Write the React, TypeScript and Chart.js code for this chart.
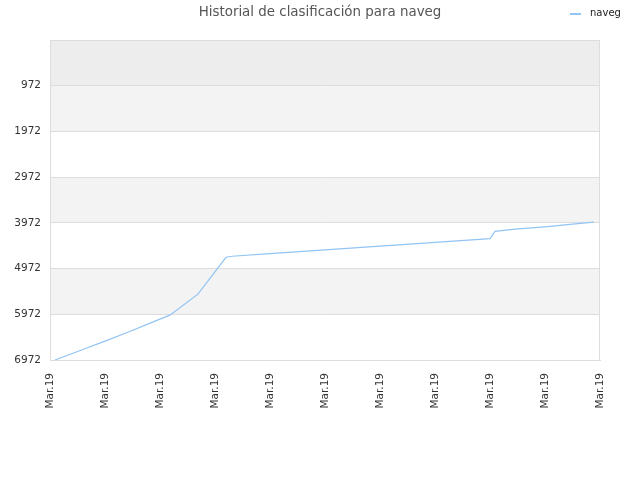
import { useEffect, useRef } from 'react';
import { Chart, ChartConfiguration, registerables } from 'chart.js';

Chart.register(...registerables);

// Position along the x axis (one unit per tick label) and rank at that point
const positions = [0.09, 0.55, 1.0, 1.45, 1.82, 2.18, 2.69, 3.2, 3.31, 4.0, 5.0, 6.0, 7.0, 8.0, 8.09, 8.5, 9.0, 9.5, 9.89];
const ranks = [6972, 6765, 6558, 6350, 6165, 5990, 5532, 4725, 4703, 4646, 4564, 4482, 4400, 4317, 4157, 4105, 4058, 4001, 3954];
const tickLabels = ['Mar.19', 'Mar.19', 'Mar.19', 'Mar.19', 'Mar.19', 'Mar.19', 'Mar.19', 'Mar.19', 'Mar.19', 'Mar.19', 'Mar.19'];
const rankTicks = [972, 1972, 2972, 3972, 4972, 5972, 6972];
const seriesName = 'naveg';
const title = 'Historial de clasificación para naveg';

const LINE_COLOR = '#92c5f4';
const FONT = '"DejaVu Sans", sans-serif';

// Alternating background bands between the horizontal grid lines
const bandsPlugin = {
  id: 'bands',
  beforeDraw(chart: any) {
    const { ctx, chartArea } = chart;
    const y = chart.scales.y;
    const edges = [y.min, ...rankTicks];
    const fills = ['#ededed', '#f3f3f3', '#ffffff', '#f3f3f3', '#ffffff', '#f3f3f3', '#ffffff'];
    ctx.save();
    for (let i = 0; i < edges.length - 1; i++) {
      const a = y.getPixelForValue(edges[i]);
      const b = y.getPixelForValue(edges[i + 1]);
      ctx.fillStyle = fills[i];
      ctx.fillRect(chartArea.left, a, chartArea.right - chartArea.left, b - a);
    }
    ctx.restore();
  },
};

// Title centred on the whole canvas, legend in the top right corner
const headerPlugin = {
  id: 'header',
  afterDraw(chart: any) {
    const { ctx, width } = chart;
    ctx.save();
    ctx.fillStyle = '#555';
    ctx.font = `13.4px ${FONT}`;
    ctx.textAlign = 'center';
    ctx.textBaseline = 'middle';
    ctx.fillText(title, width / 2, 13);

    ctx.strokeStyle = LINE_COLOR;
    ctx.lineWidth = 2;
    ctx.beginPath();
    ctx.moveTo(570, 14);
    ctx.lineTo(581, 14);
    ctx.stroke();
    ctx.fillStyle = '#222';
    ctx.font = `10px ${FONT}`;
    ctx.textAlign = 'left';
    ctx.fillText(seriesName, 590, 13);
    ctx.restore();
  },
};

const framePlugin = {
  id: 'frame',
  afterDraw(chart: any) {
    const { ctx, chartArea } = chart;
    ctx.save();
    ctx.strokeStyle = '#dddddd';
    ctx.lineWidth = 1;
    ctx.strokeRect(chartArea.left + 0.5, chartArea.top + 0.5,
      chartArea.right - chartArea.left - 1, chartArea.bottom - chartArea.top);
    ctx.restore();
  },
};

function RankChart() {
  const canvasRef = useRef<HTMLCanvasElement>(null);
  const chartRef = useRef<Chart | null>(null);

  useEffect(() => {
    if (!canvasRef.current) return;
    if (chartRef.current) chartRef.current.destroy();

    const config: ChartConfiguration = {
      type: 'line',
      data: {
        datasets: [{
          label: seriesName,
          data: positions.map((p, i) => ({ x: p, y: ranks[i] })),
          borderColor: LINE_COLOR,
          borderWidth: 1.2,
          pointRadius: 0,
          fill: false,
          tension: 0,
        }],
      },
      options: {
        animation: false,
        responsive: false,
        maintainAspectRatio: false,
        layout: { padding: { left: 0, right: 40, top: 40, bottom: 0 } },
        plugins: {
          legend: { display: false },
          tooltip: { enabled: false },
          title: { display: false },
        },
        scales: {
          x: {
            type: 'linear',
            min: 0,
            max: 10,
            afterBuildTicks: (scale: any) => {
              scale.ticks = tickLabels.map((_, i) => ({ value: i }));
            },
            afterFit: (scale: any) => { scale.height = 120; },
            ticks: {
              autoSkip: false,
              minRotation: 90,
              maxRotation: 90,
              padding: 13,
              color: '#333',
              font: { family: FONT, size: 10.5 },
              callback: (_v: any, i: number) => tickLabels[i],
            },
            grid: { display: false, drawTicks: false },
            border: { display: true, color: '#dddddd' },
          },
          y: {
            type: 'linear',
            reverse: true,
            min: -28,
            max: 6972,
            afterBuildTicks: (scale: any) => {
              scale.ticks = rankTicks.map((v) => ({ value: v }));
            },
            afterFit: (scale: any) => { scale.width = 50; },
            ticks: {
              padding: 9,
              color: '#333',
              font: { family: FONT, size: 10.5 },
              callback: (v: any) => String(v),
            },
            grid: { color: '#dddddd', drawTicks: false },
            border: { display: true, color: '#dddddd' },
          },
        },
      },
      plugins: [bandsPlugin, headerPlugin, framePlugin],
    };

    chartRef.current = new Chart(canvasRef.current, config);

    return () => {
      if (chartRef.current) {
        chartRef.current.destroy();
        chartRef.current = null;
      }
    };
  }, []);

  return (
    <div style={{ position: 'absolute', left: 0, top: 0, width: 640, height: 480, background: '#fff' }}>
      <canvas ref={canvasRef} width={640} height={480} style={{ width: 640, height: 480 }}></canvas>
    </div>
  );
}

export default function App() {
  return <RankChart />;
}
